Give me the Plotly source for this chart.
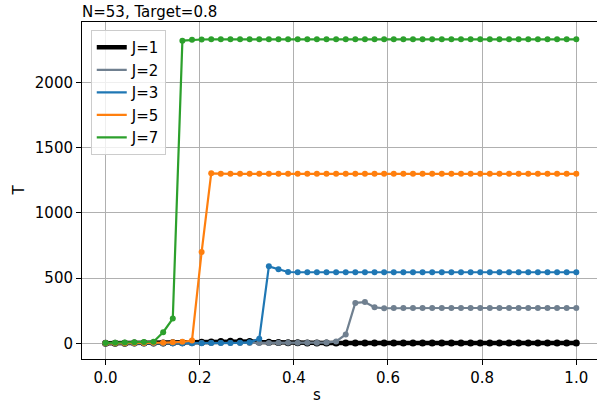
import numpy as np
import plotly.graph_objects as go

n_points = 50
s = np.linspace(0, 1, n_points)

J1 = [0, 1, 1, 2, 2, 3, 3, 4, 5, 6, 8, 10, 14, 16, 16, 14, 10, 8, 6, 5,
      4, 3, 3, 3, 3, 3, 3, 3, 3, 3, 3, 3, 3, 3, 3, 3, 3, 3, 3, 3,
      3, 3, 3, 3, 3, 3, 3, 3, 3, 3]
J2 = [0, 0, 0, 0, 0, 0, 0, 1, 1, 1, 2, 2, 2, 2, 3, 3, 3, 3, 4, 4,
      4, 5, 5, 6, 15, 68, 310, 316, 276, 269, 270, 270, 271, 271, 271, 271, 271, 271, 271, 271,
      271, 271, 271, 271, 271, 271, 271, 271, 271, 271]
J3 = [0, 0, 0, 0, 0, 0, 0, 0, 0, 1, 1, 2, 2, 3, 4, 8, 35, 590, 567, 547,
      545, 545, 545, 545, 545, 545, 545, 545, 545, 545, 545, 545, 545, 545, 545, 545, 545, 545, 545, 545,
      545, 545, 545, 545, 545, 545, 545, 545, 545, 545]
J5 = [0, 0, 1, 2, 3, 4, 5, 8, 12, 22, 700, 1303, 1299, 1299, 1299, 1299, 1299, 1299, 1299, 1299,
      1299, 1299, 1299, 1299, 1299, 1299, 1299, 1299, 1299, 1299, 1299, 1299, 1299, 1299, 1299, 1299, 1299, 1299, 1299, 1299,
      1299, 1299, 1299, 1299, 1299, 1299, 1299, 1299, 1299, 1299]
J7 = [3, 5, 7, 9, 10, 12, 85, 190, 2320, 2326, 2329, 2330, 2330, 2330, 2330, 2330, 2330, 2330, 2330, 2330,
      2330, 2330, 2330, 2330, 2330, 2330, 2330, 2330, 2330, 2330, 2330, 2330, 2330, 2330, 2330, 2330, 2330, 2330, 2330, 2330,
      2330, 2330, 2330, 2330, 2330, 2330, 2330, 2330, 2330, 2330]

series = [
    ("J=1", J1, "black", 4.5, 7),
    ("J=2", J2, "#708090", 2.2, 6),
    ("J=3", J3, "#1f77b4", 2.2, 6),
    ("J=5", J5, "#ff7f0e", 2.2, 6),
    ("J=7", J7, "#2ca02c", 2.2, 6),
]

x_ticks = [0.0, 0.2, 0.4, 0.6, 0.8, 1.0]
x_ticklabels = ["0.0", "0.2", "0.4", "0.6", "0.8", "1.0"]
y_ticks = [0, 500, 1000, 1500, 2000]

fig = go.Figure()
for name, ys, color, lw, ms in series:
    fig.add_trace(go.Scatter(x=s, y=ys, mode="lines", name=name, legendgroup=name,
                             line=dict(color=color, width=lw)))
    fig.add_trace(go.Scatter(x=s, y=ys, mode="markers", name=name, legendgroup=name,
                             showlegend=False, marker=dict(color=color, size=ms)))

font = dict(family="DejaVu Sans", size=15, color="black")
fig.update_layout(
    width=597, height=404,
    margin=dict(l=82, r=0, t=22, b=45, autoexpand=False),
    paper_bgcolor="white", plot_bgcolor="white",
    font=font,
    showlegend=True,
    legend=dict(x=0.017, y=0.976, xanchor="left", yanchor="top",
                bgcolor="rgba(255,255,255,0.8)", bordercolor="#cccccc", borderwidth=1,
                font=dict(family="DejaVu Sans", size=15), tracegroupgap=0),
    annotations=[dict(text="N=53, Target=0.8", xref="paper", yref="paper", x=0, y=1,
                      xanchor="left", yanchor="bottom", showarrow=False, yshift=-1, xshift=-2,
                      font=dict(family="DejaVu Sans", size=15)),
                 dict(text="s", xref="paper", yref="paper", x=0.457, y=0, yshift=-36,
                      xanchor="center", yanchor="middle", showarrow=False, font=font),
                 dict(text="T", xref="paper", yref="paper", x=0, y=0.5, xshift=-64,
                      xanchor="center", yanchor="middle", showarrow=False, textangle=-90,
                      font=font)],
)
fig.update_xaxes(range=[-0.05, 1.044], tickvals=x_ticks, ticktext=x_ticklabels,
                 showgrid=True, gridcolor="#b0b0b0", gridwidth=1, automargin=False,
                 showline=True, linecolor="black", linewidth=1, mirror=True,
                 ticks="outside", ticklen=5, tickcolor="black", zeroline=False)
fig.update_yaxes(range=[-120, 2463], tickvals=y_ticks, automargin=False,
                 showgrid=True, gridcolor="#b0b0b0", gridwidth=1,
                 showline=True, linecolor="black", linewidth=1, mirror=False,
                 ticks="outside", ticklen=5, tickcolor="black", zeroline=False)

fig.write_html("out.html", config={"displayModeBar": False},
               post_script="document.body.style.margin='0';document.body.style.overflow='hidden';")
